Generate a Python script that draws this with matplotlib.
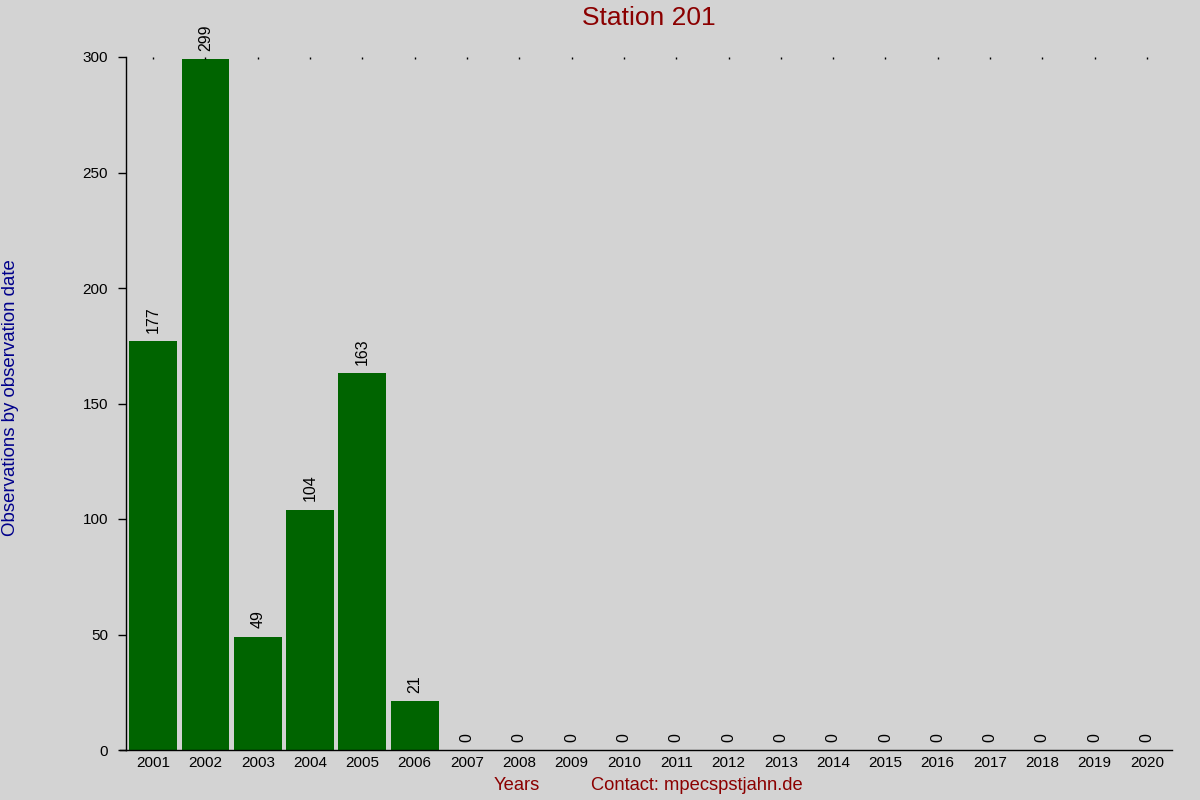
import matplotlib
matplotlib.use("Agg")
import matplotlib.pyplot as plt

plt.rcParams['font.family'] = ['Liberation Sans', 'DejaVu Sans']

years = list(range(2001, 2021))
counts = [177, 299, 49, 104, 163, 21, 0, 0, 0, 0, 0, 0, 0, 0, 0, 0, 0, 0, 0, 0]
year_labels = [str(y) for y in years]
y_ticks = [0, 50, 100, 150, 200, 250, 300]

bg = '#d3d3d3'
fig = plt.figure(figsize=(12, 8), dpi=100, facecolor=bg)
ax = fig.add_axes([0.105, 0.0625, 0.8717, 0.86625], facecolor=bg)

bars = ax.bar(years, counts, width=0.917, color='#006400')

for x, v in zip(years, counts):
    ax.annotate(str(v), (x, v), xytext=(0, 6), textcoords='offset points',
                rotation=90, ha='center', va='bottom', fontsize=11.5)

ax.set_xlim(2000.48, 2020.48)
ax.set_ylim(0, 300)
ax.set_yticks(y_ticks)
ax.set_xticks(years)
ax.set_xticklabels(year_labels)

for s in ['top', 'right']:
    ax.spines[s].set_visible(False)
ax.spines['left'].set_linewidth(1)
ax.spines['bottom'].set_linewidth(1)

ax.tick_params(axis='y', length=6, width=1, pad=7, labelsize=11)
ax.tick_params(axis='x', bottom=False, top=True, direction='in', length=1.2,
               width=1, pad=4, labelsize=11, labelbottom=True, labeltop=False)

# extend the baseline to the left like in the original
ax.plot([-0.006, 0], [0, 0], transform=ax.transAxes, color='black', lw=1, clip_on=False)

fig.text(0.5408, 0.978, 'Station 201', color='#8b0000', fontsize=19,
         ha='center', va='center')
fig.text(0.009, 0.503, 'Observations by observation date', color='#00008b',
         fontsize=13.4, rotation=90, ha='center', va='center')
fig.text(0.431, 0.0175, 'Years', color='#8b0000', fontsize=13.2,
         ha='center', va='center')
fig.text(0.4925, 0.0175, 'Contact: mpecspstjahn.de', color='#8b0000',
         fontsize=13.2, ha='left', va='center')

fig.savefig('out.png', dpi=100, facecolor=bg)
